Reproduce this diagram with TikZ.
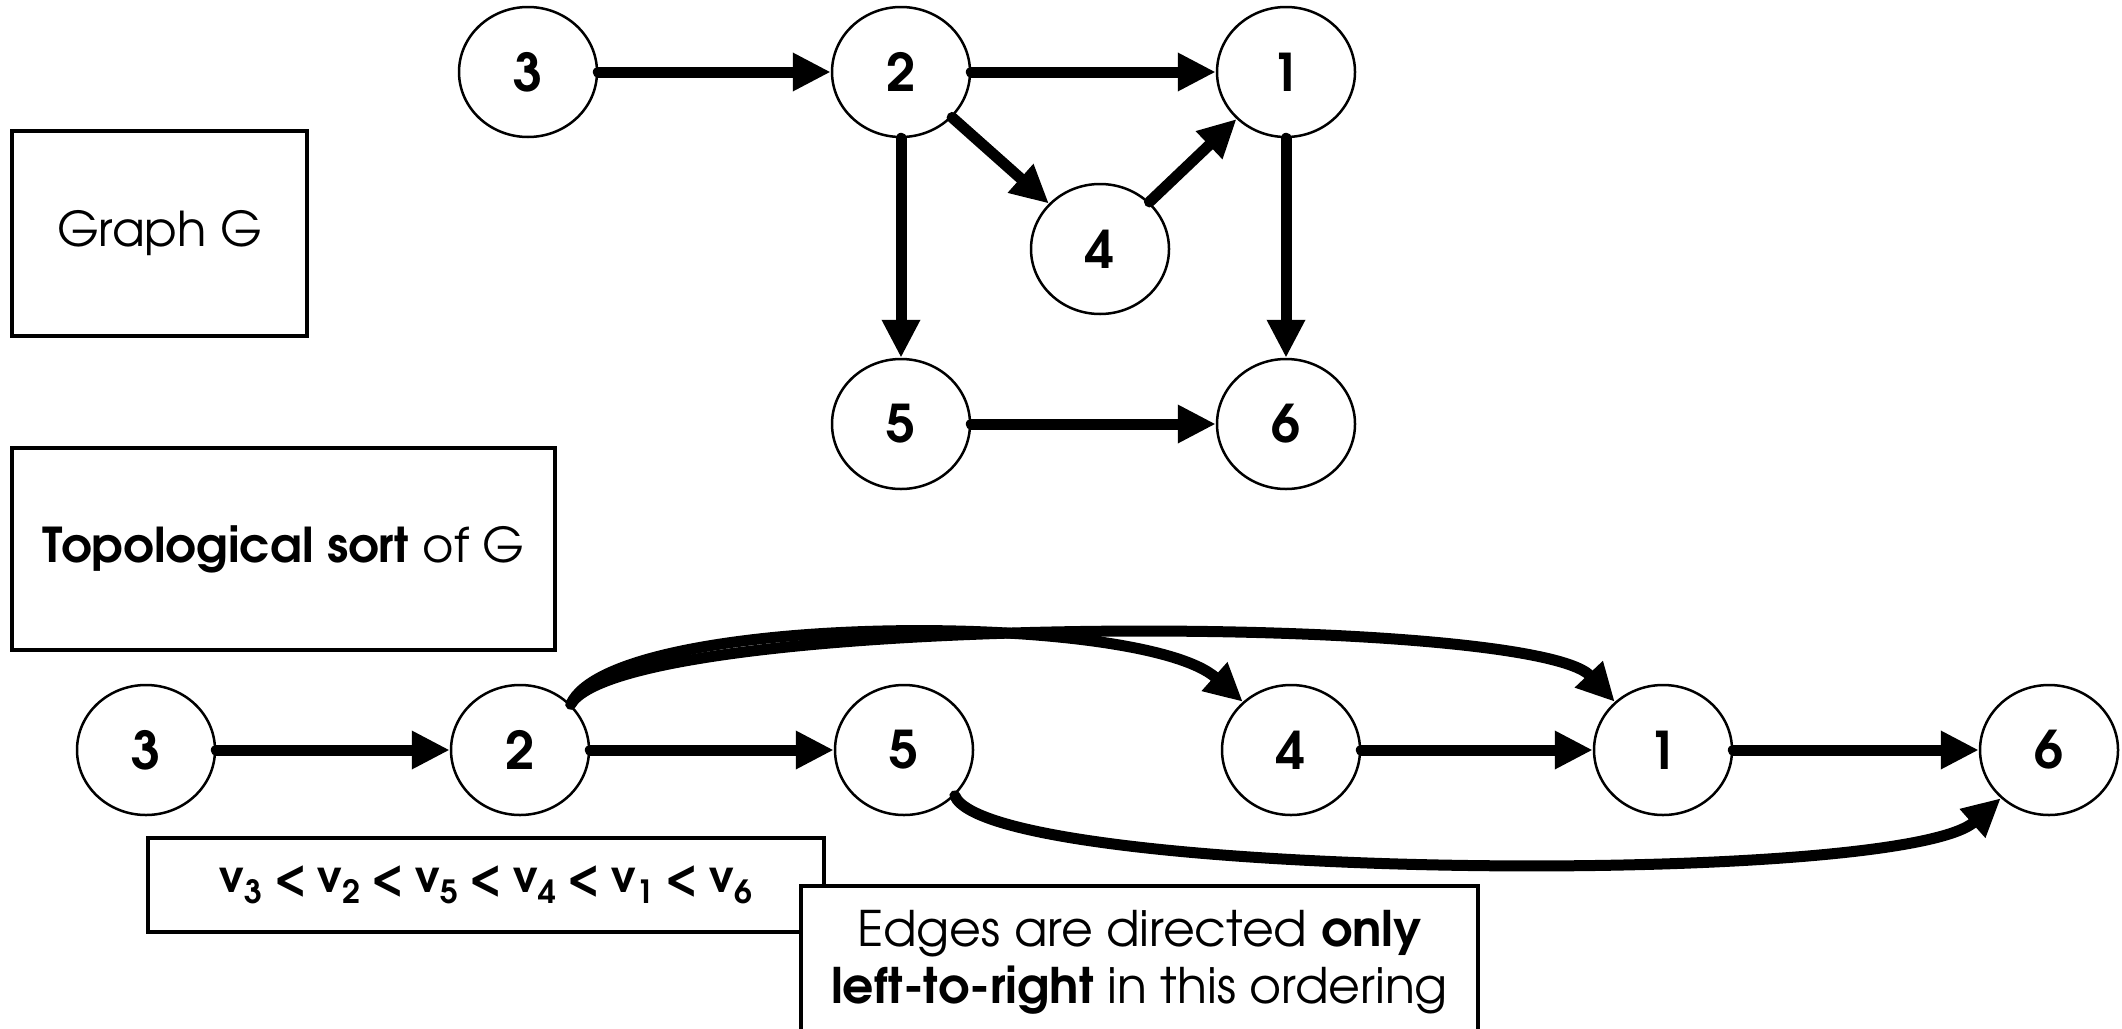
\documentclass[tikz,border=0pt]{standalone}
\usepackage{fontspec}
\setmainfont{texgyreadventor-regular.otf}[BoldFont=texgyreadventor-bold.otf]
\usetikzlibrary{shapes.geometric,arrows.meta}

% vertex name with a large lowered index
\newcommand\vsub[1]{v\raisebox{-11pt}{\fontsize{32}{32}\selectfont #1}}
\newcommand\lessgap{\hspace{11.5pt}<\hspace{11.5pt}}

\tikzset{
  vert/.style={ellipse, draw, line width=2.5pt, fill=white,
    minimum width=138pt, minimum height=130pt, inner sep=0pt,
    font=\fontsize{52}{52}\selectfont\bfseries},
  arc/.style={line width=11pt, line cap=round,
    -{Triangle[length=38pt,width=36pt]}},
  textbox/.style={draw, line width=3.5pt, fill=white, inner sep=0pt,
    font=\fontsize{48}{57}\selectfont},
}

\begin{document}
\begin{tikzpicture}[x=1pt,y=-1pt]
\useasboundingbox (0,0) rectangle (2122,1028);

% graph G
\node[vert] (a3) at (528,72)   {3};
\node[vert] (a2) at (901,72)   {2};
\node[vert] (a1) at (1286,72)  {1};
\node[vert] (a4) at (1100,249) {4};
\node[vert] (a5) at (901,424)  {5};
\node[vert] (a6) at (1286,424) {6};

\draw[arc] (a3) -- (a2);
\draw[arc] (a2) -- (a1);
\draw[arc] (a2) -- (a4);
\draw[arc] (a4) -- (a1);
\draw[arc] (a2) -- (a5);
\draw[arc] (a1) -- (a6);
\draw[arc] (a5) -- (a6);

\node[textbox, minimum width=295pt, minimum height=205pt] (gbox) at (159.5,233.5) {Graph G};
\node[textbox, minimum width=543pt, minimum height=202pt] (tbox) at (283.5,549) {\textbf{Topological sort} of G};

% topological order
\node[vert] (b3) at (146,750)  {3};
\node[vert] (b2) at (520,750)  {2};
\node[vert] (b5) at (904,750)  {5};
\node[vert] (b4) at (1291,750) {4};
\node[vert] (b1) at (1663,750) {1};
\node[vert] (b6) at (2049,750) {6};

\draw[arc] (b3) -- (b2);
\draw[arc] (b2) -- (b5);
\draw[arc] (b4) -- (b1);
\draw[arc] (b1) -- (b6);
\draw[arc] (b2.42) .. controls (625,612) and (1530,612) .. (b1.135);
\draw[arc] (b2.42) .. controls (612,612) and (1140,610) .. (b4.135);
\draw[arc] (b5.-42) .. controls (990,880) and (1900,888) .. (b6.-135);

\node[textbox, minimum width=676pt, minimum height=94pt, font=\fontsize{44}{57}\selectfont\bfseries] (order) at (486,885)
  {\vsub{3}\lessgap\vsub{2}\lessgap\vsub{5}\lessgap\vsub{4}\lessgap\vsub{1}\lessgap\vsub{6}};
\node[textbox, minimum width=677pt, minimum height=153pt, align=center, font=\fontsize{49}{57}\selectfont] (note) at (1139.5,962.5)
  {Edges are directed \textbf{only}\\ \textbf{left-to-right} in this ordering};
\end{tikzpicture}
\end{document}
